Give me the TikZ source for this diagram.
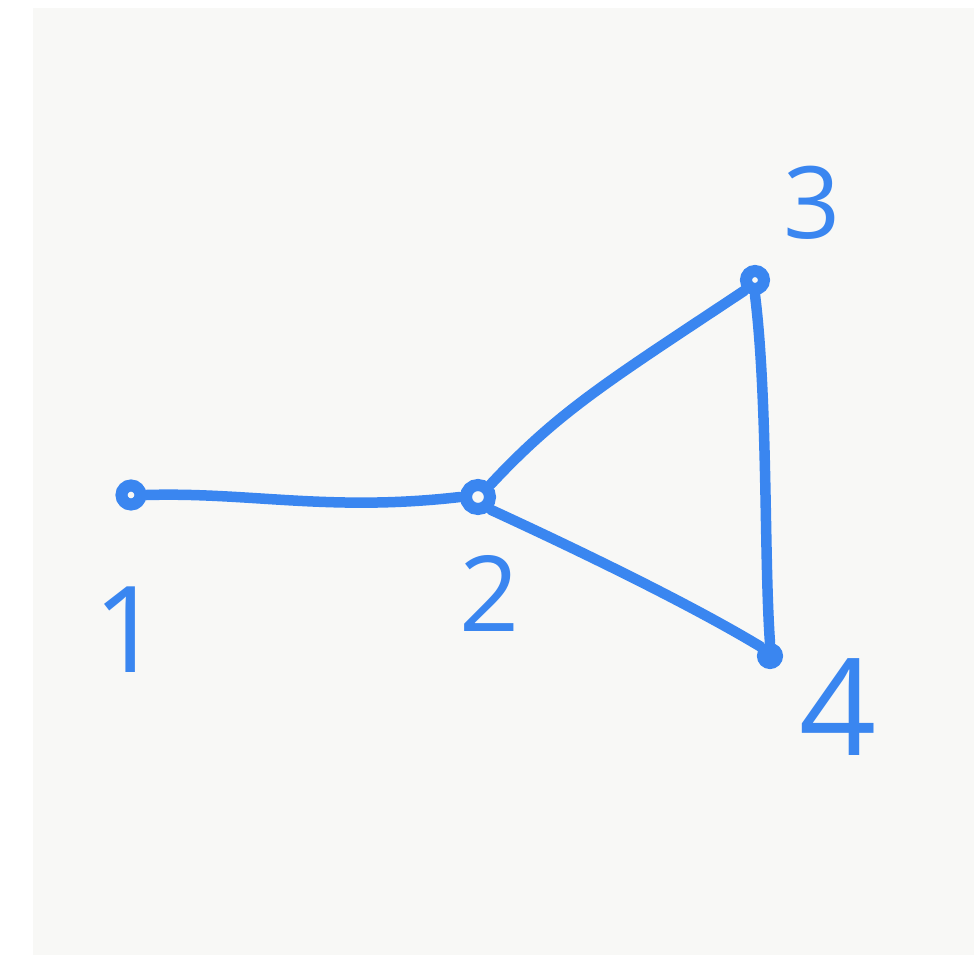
\documentclass[tikz,border=0pt]{standalone}
\usepackage{fontspec}
\setmainfont{Open Sans}
\definecolor{ink}{HTML}{3A86F0}
\definecolor{paper}{HTML}{F8F8F6}
\begin{document}
\begin{tikzpicture}[x=1pt,y=-1pt,
  vert/.style={circle,draw=ink,line width=12pt,inner sep=0pt,minimum size=#1},
  edge/.style={draw=ink,line width=10.5pt,line cap=round,line join=round},
  lab/.style={text=ink,font=\fontsize{#1}{#1}\selectfont,inner sep=0pt}]
\useasboundingbox (0,0) rectangle (974,955);
\fill[white] (0,0) rectangle (974,955);
\fill[paper] (33,8) rectangle (974,955);
% vertices
\node[vert=19pt] (v1) at (131,495) {};
\node[vert=24pt] (v2) at (478,497) {};
\node[vert=18pt] (v3) at (755,280) {};
\node[vert=14pt,fill=ink] (v4) at (770,656) {};
% edges
\draw[edge] (v1.east) .. controls (250,492) and (330,512) .. (v2.west);
\draw[edge] (v2.north east) .. controls (560,410) and (610,380) .. (v3.south west);
\draw[edge] (v3.south) .. controls (768,400) and (764,560) .. (v4.north);
\draw[edge] (v2.south east) .. controls (600,560) and (700,610) .. (v4.north west);
% labels
\node[lab=120] (l1) at (128,630) {1};
\node[lab=105] (l2) at (490,593) {2};
\node[lab=100] (l3) at (812,203) {3};
\node[lab=135] (l4) at (838,707) {4};
\end{tikzpicture}
\end{document}
